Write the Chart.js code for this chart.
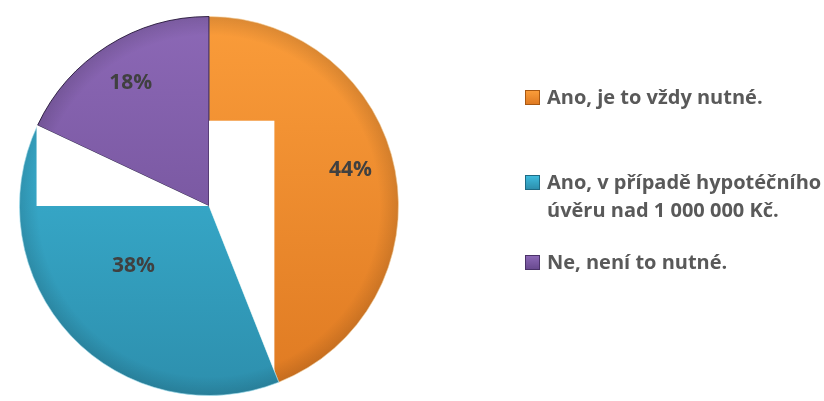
<!DOCTYPE html>
<html>
<head>
<meta charset="utf-8">
<script src="https://cdn.jsdelivr.net/npm/chart.js@4"></script>
<style>
    html, body { margin: 0; padding: 0; background: #fff; }
    #wrap { position: relative; width: 824px; height: 401px; }
    #pieChart { position: absolute; left: 0; top: 0; }
    #legend { font-family: "Open Sans", sans-serif; font-weight: bold; font-size: 20px; color: #595959; }
    .item { position: absolute; left: 525px; padding-left: 22px; line-height: 28px; white-space: nowrap; }
    .box { position: absolute; left: 0; top: 7px; width: 15px; height: 15px; box-sizing: border-box; }
</style>
</head>
<body>
<div id="wrap">
    <canvas id="pieChart" width="824" height="401"></canvas>
    <div id="legend"></div>
</div>
<script>
const categories = ['Ano, je to vždy nutné.', 'Ano, v případě hypotéčního\núvěru nad 1 000 000 Kč.', 'Ne, není to nutné.'];
const shares = [44, 38, 18];
const pctLabels = ['44%', '38%', '18%'];

const palette = [
    { top: '#fa9c3a', bottom: '#df7a22', edge: '#a85812' },
    { top: '#3ebbdd', bottom: '#2d8fad', edge: '#1f6a84' },
    { top: '#8c68b6', bottom: '#694a8f', edge: '#4a3268' },
];

function sliceFill(ctx) {
    const area = ctx.chart.chartArea;
    if (!area) return palette[ctx.dataIndex].top;
    const c = palette[ctx.dataIndex];
    const g = ctx.chart.ctx.createLinearGradient(0, area.top, 0, area.bottom);
    g.addColorStop(0, c.top);
    g.addColorStop(1, c.bottom);
    return g;
}

// soft darker rim, then white blocks cut out of two slices
const whiteBlocks = {
    id: 'whiteBlocks',
    afterDatasetsDraw(chart) {
        const meta = chart.getDatasetMeta(0);
        const c = chart.ctx;
        const first = meta.data[0];
        if (!first) return;
        const { x: cx, y: cy, outerRadius: R } = first;

        c.save();
        c.beginPath();
        c.arc(cx, cy, R, 0, Math.PI * 2);
        c.clip();
        const rim = c.createRadialGradient(cx, cy, R * 0.9, cx, cy, R);
        rim.addColorStop(0, 'rgba(0,0,0,0)');
        rim.addColorStop(1, 'rgba(0,0,0,0.12)');
        c.fillStyle = rim;
        c.fillRect(cx - R, cy - R, 2 * R, 2 * R);
        c.restore();

        const cuts = [
            { slice: 0, x0: 0, x1: 0.345, y0: -0.45, y1: 1.05 },
            { slice: 1, x0: -0.91, x1: 0, y0: -0.45, y1: 0 },
        ];
        cuts.forEach(cut => {
            const arc = meta.data[cut.slice];
            const { x, y, outerRadius: r, startAngle, endAngle } = arc;
            c.save();
            c.beginPath();
            c.moveTo(x, y);
            c.arc(x, y, r + 2, startAngle, endAngle);
            c.closePath();
            c.clip();
            c.fillStyle = '#ffffff';
            c.fillRect(x + cut.x0 * r, y + cut.y0 * r, (cut.x1 - cut.x0) * r, (cut.y1 - cut.y0) * r);
            c.restore();
        });
    }
};

const pctText = {
    id: 'pctText',
    afterDatasetsDraw(chart, args, opts) {
        const meta = chart.getDatasetMeta(0);
        const c = chart.ctx;
        c.save();
        c.font = 'bold 21px "Open Sans", sans-serif';
        c.fillStyle = '#404040';
        c.textAlign = 'center';
        c.textBaseline = 'middle';
        meta.data.forEach((arc, i) => {
            const mid = (arc.startAngle + arc.endAngle) / 2 + (opts.shift[i] || 0);
            const rr = arc.outerRadius * opts.radius[i];
            c.fillText(pctLabels[i], arc.x + Math.cos(mid) * rr, arc.y + Math.sin(mid) * rr);
        });
        c.restore();
    }
};

new Chart(document.getElementById('pieChart'), {
    type: 'pie',
    data: {
        labels: categories,
        datasets: [{
            data: shares,
            backgroundColor: sliceFill,
            borderColor: ['rgba(255,220,170,0.7)', 'rgba(170,230,245,0.7)', 'rgba(40,25,60,0.9)'],
            borderWidth: 1,
        }]
    },
    options: {
        responsive: false,
        animation: false,
        layout: { padding: { left: 19, top: 16, right: 425, bottom: 5 } },
        plugins: {
            legend: { display: false },
            tooltip: { enabled: false },
            pctText: { radius: [0.77, 0.51, 0.77], shift: [-0.06, 0.08, 0] }
        }
    },
    plugins: [whiteBlocks, pctText]
});

// legend on the right
const legendEl = document.getElementById('legend');
const tops = [83, 168, 248];
legendEl.innerHTML = categories.map((name, i) => {
    const c = palette[i];
    return `<div class="item" style="top:${tops[i]}px">
        <span class="box" style="background:linear-gradient(${c.top}, ${c.bottom});border:1px solid ${c.edge}"></span>${name.split('\n').join('<br>')}
    </div>`;
}).join('');
</script>
</body>
</html>
